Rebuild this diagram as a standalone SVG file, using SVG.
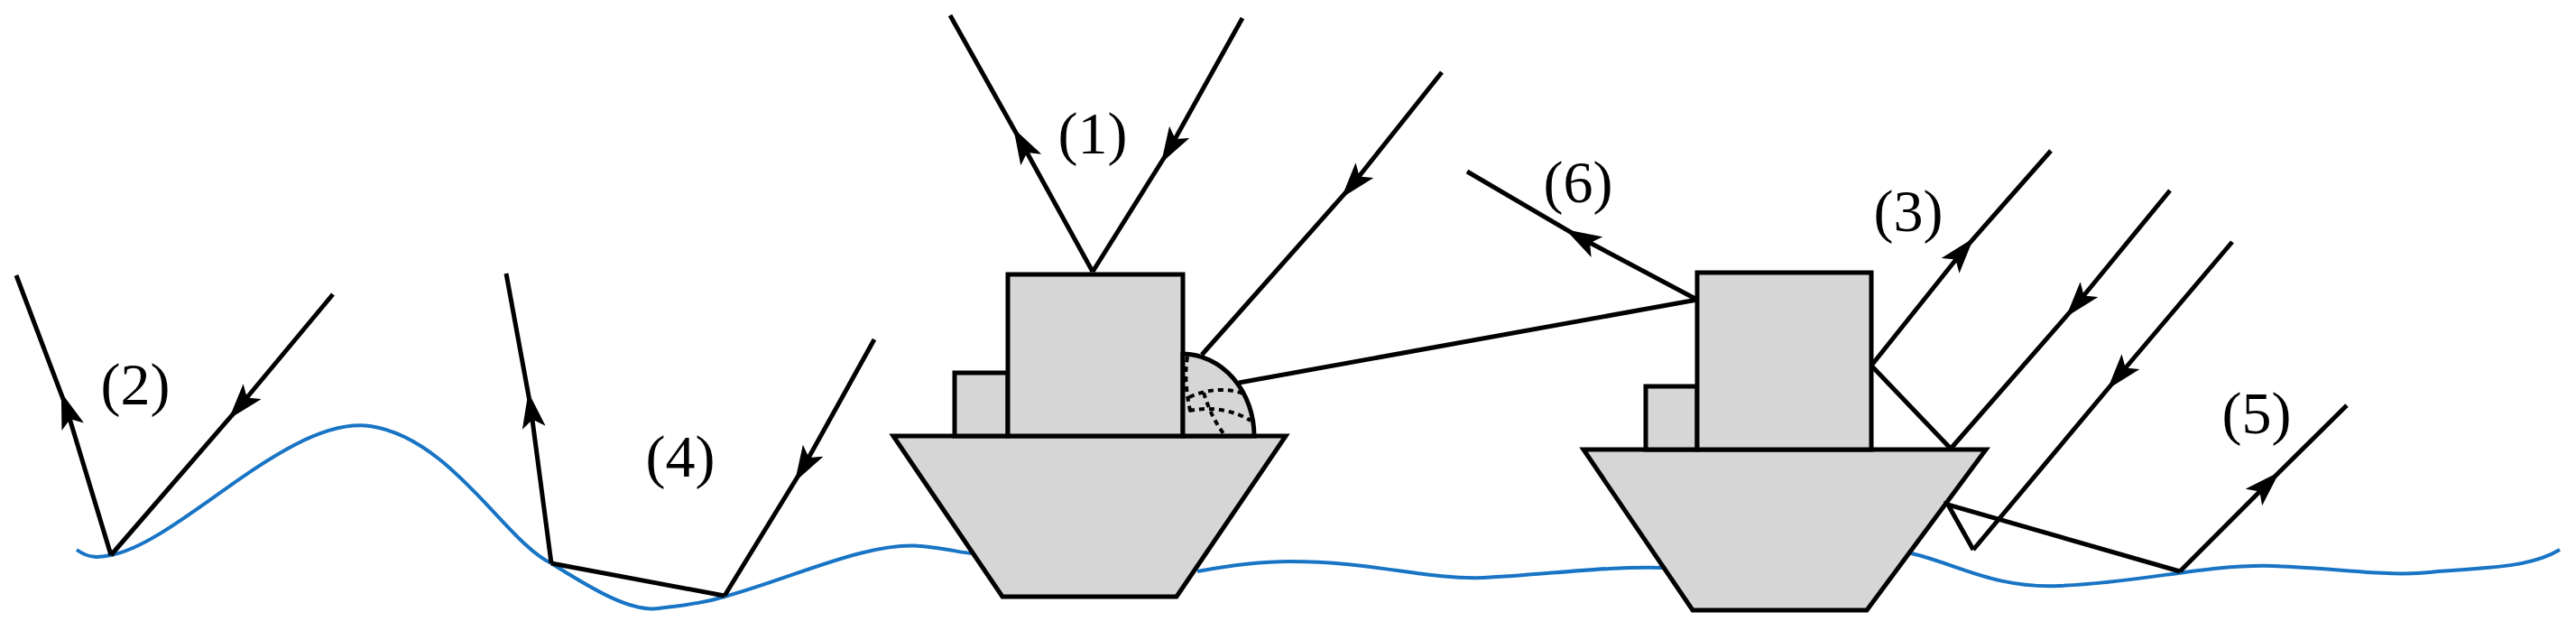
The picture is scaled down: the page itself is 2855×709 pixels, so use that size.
<svg xmlns="http://www.w3.org/2000/svg" width="2855" height="709" viewBox="0 0 2855 709">
<style>
.ray{fill:none;stroke:#000;stroke-width:5;marker-mid:url(#ah)}
.ln{fill:none;stroke:#000;stroke-width:5}
.body{fill:#d6d6d6;stroke:#000;stroke-width:5}
.wave{fill:none;stroke:#1874c4;stroke-width:4}
.dot{fill:none;stroke:#000;stroke-width:4;stroke-dasharray:6 5}
.lbl{font-family:"Liberation Serif",serif;font-size:66px;text-anchor:middle}
</style>
<defs>
<marker id="ah" viewBox="0 0 40 26" refX="24" refY="13" markerWidth="40" markerHeight="26" markerUnits="userSpaceOnUse" orient="auto">
<path d="M0,0 L40,13 L0,26 L9,13 Z" fill="#000"/>
</marker>
</defs>
<g id="sea">
<path class="wave" d="M85,609 C100,620 112,617 123,615 C200,600 320,460 410,472 C500,485 560,600 611,624 C660,655 700,678 730,674 C760,670 780,668 803,661 C880,640 960,600 1021,605 C1050,608 1065,612 1076,613"/>
<path class="wave" d="M1327,633 C1370,625 1400,622 1430,622 C1520,622 1580,642 1644,640 C1720,636 1780,627 1845,629"/>
<path class="wave" d="M2118,613 C2170,625 2210,652 2282,649 C2380,645 2440,625 2519,627 C2600,630 2650,640 2702,633 C2780,628 2810,625 2837,609"/>
</g>
<g id="ship1">
<polygon class="body" points="990,483 1425,483 1304,661 1111,661"/>
<rect class="body" x="1058" y="413" width="59" height="70"/>
<rect class="body" x="1117" y="304" width="194" height="179"/>
<path class="body" d="M1311,392 A80,91 0 0 1 1390,483 L1311,483 Z"/>
<path class="dot" d="M1316,395 C1312,420 1316,440 1320,460 M1318,440 C1340,430 1360,430 1378,436 M1318,455 C1345,450 1368,455 1386,466 M1334,435 C1340,455 1348,470 1358,483"/>
</g>
<g id="ship2">
<polygon class="body" points="1755,498 2201,498 2069,676 1876,676"/>
<rect class="body" x="1824" y="428" width="57" height="70"/>
<rect class="body" x="1881" y="302" width="193" height="196"/>
</g>
<g id="connectors">
<path class="ray" d="M1211,301 L1131,156 L1053,17"/>
<path class="ray" d="M1377,20 L1295,167 L1211,301"/>
<path class="ray" d="M1598,80 L1497,207 L1332,393"/>
<path class="ln" d="M1373,424 L1881,332"/>
<path class="ray" d="M123,615 L73,450 L18,305"/>
<path class="ray" d="M369,326 L264,452 L123,615"/>
<path class="ray" d="M611,624 L588,450 L561,303"/>
<path class="ln" d="M611,624 L803,660"/>
<path class="ray" d="M969,376 L889,520 L803,660"/>
<path class="ray" d="M1881,332 L1749,262 L1626,190"/>
<path class="ray" d="M2074,405 L2177,276 L2273,167"/>
<path class="ln" d="M2074,405 L2162,497"/>
<path class="ray" d="M2405,211 L2300,339 L2162,497"/>
<path class="ray" d="M2474,268 L2346,419 L2187,609"/>
<path class="ln" d="M2187,609 L2159,559 L2416,633"/>
<path class="ray" d="M2416,633 L2515,534 L2601,449"/>
</g>
<g id="labels">
<text class="lbl" x="1211" y="170">(1)</text>
<text class="lbl" x="150" y="448">(2)</text>
<text class="lbl" x="2115" y="256">(3)</text>
<text class="lbl" x="754" y="528">(4)</text>
<text class="lbl" x="2501" y="480">(5)</text>
<text class="lbl" x="1749" y="224">(6)</text>
</g>
</svg>
